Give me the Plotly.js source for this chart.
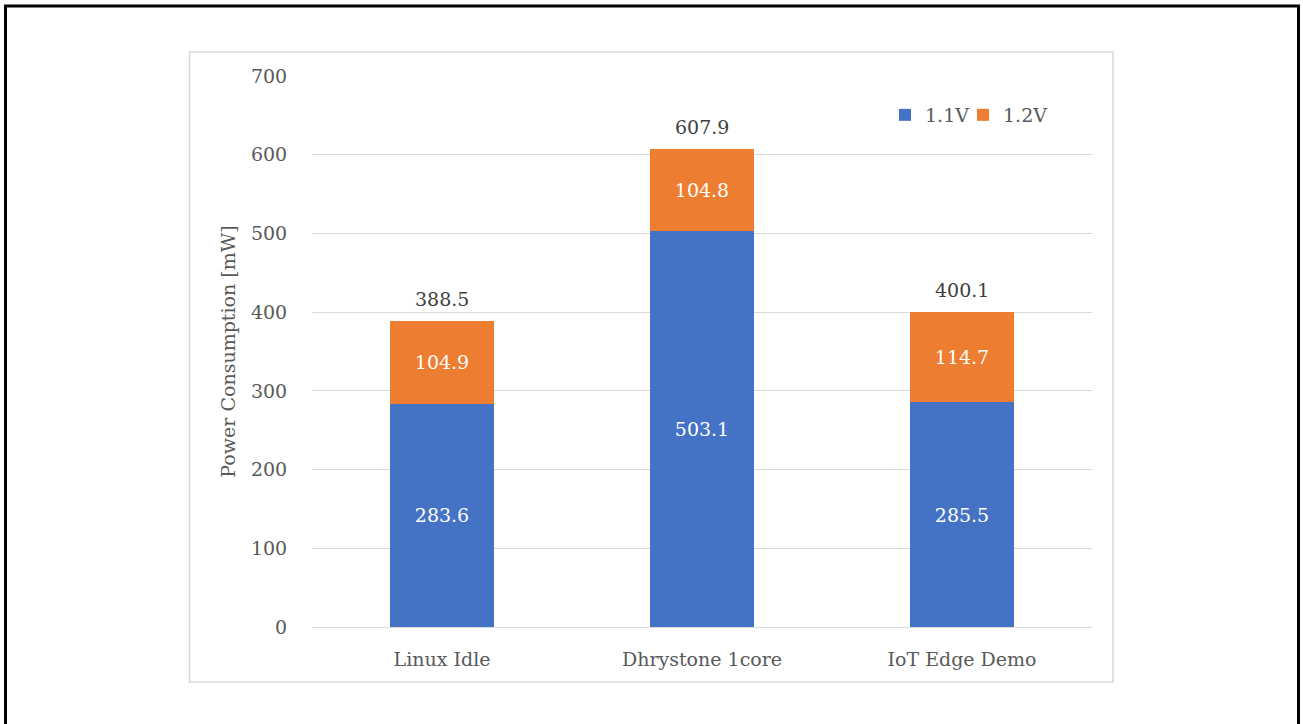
<!DOCTYPE html>
<html>
<head>
<meta charset="utf-8">
<script src="https://cdn.plot.ly/plotly-3.0.1.min.js"></script>
<style>html,body{margin:0;padding:0;background:#fff;}#chart{width:1303px;height:724px;}</style>
</head>
<body>
<div id="chart"></div>
<script>
const categories = ["Linux Idle", "Dhrystone 1core", "IoT Edge Demo"];
const v11 = [283.6, 503.1, 285.5];
const v12 = [104.9, 104.8, 114.7];
const totals = [388.5, 607.9, 400.1];
const seriesNames = ["1.1V", "1.2V"];

const FONT = "DejaVu Serif, Liberation Serif, serif";
const L = 312, R = 1092, T = 76, B = 627;
const px = x => (x - L) / (R - L);
const py = y => (B - y) / (B - T);

const traces = [
  {type: "bar", name: seriesNames[0], x: categories, y: v11, marker: {color: "#4472C4"},
   text: v11.map(v => v.toFixed(1)), textposition: "inside", insidetextanchor: "middle",
   textfont: {color: "#ffffff", size: 19, family: FONT}, hoverinfo: "y", legend: "legend"},
  {type: "bar", name: seriesNames[1], x: categories, y: v12, marker: {color: "#ED7D31"},
   text: v12.map(v => v.toFixed(1)), textposition: "inside", insidetextanchor: "middle",
   textfont: {color: "#ffffff", size: 19, family: FONT}, hoverinfo: "y", legend: "legend2"}
];

const annotations = categories.map((c, i) => ({
  x: c, y: totals[i], xref: "x", yref: "y", text: totals[i].toFixed(1),
  showarrow: false, yanchor: "middle", yshift: 22,
  font: {color: "#404040", size: 19, family: FONT}
}));

const legendBase = {orientation: "h", xanchor: "left", y: py(115), yanchor: "middle",
  font: {size: 19, color: "#595959", family: FONT}, itemwidth: 30, bgcolor: "rgba(0,0,0,0)"};

const layout = {
  width: 1303, height: 724,
  margin: {l: L, r: 1303 - R, t: T, b: 724 - B, pad: 0},
  barmode: "stack", bargap: 0.6,
  paper_bgcolor: "#ffffff", plot_bgcolor: "#ffffff",
  font: {family: FONT, size: 19, color: "#595959"},
  xaxis: {showgrid: false, zeroline: false, showline: false, ticks: "outside", ticklen: 15, tickcolor: "rgba(0,0,0,0)",
          tickfont: {size: 19, color: "#595959", family: FONT}},
  yaxis: {range: [0, 700], dtick: 100, showgrid: true, gridcolor: "#d9d9d9", gridwidth: 1,
          zeroline: true, zerolinecolor: "#d9d9d9", zerolinewidth: 1, showline: false,
          ticks: "outside", ticklen: 20, tickcolor: "rgba(0,0,0,0)",
          tickfont: {size: 19, color: "#595959", family: FONT},
          title: {text: "Power Consumption [mW]", font: {size: 19, color: "#595959", family: FONT}, standoff: 10}},
  legend: Object.assign({}, legendBase, {x: px(885)}),
  legend2: Object.assign({}, legendBase, {x: px(963)}),
  annotations: annotations,
  shapes: [
    {type: "rect", xref: "paper", yref: "paper", x0: px(189.5), x1: px(1113), y0: py(682), y1: py(52),
     line: {color: "#d9d9d9", width: 1.5}, layer: "below"},
    {type: "path", xref: "paper", yref: "paper",
     path: `M ${px(5.5)} ${py(740)} L ${px(5.5)} ${py(6)} L ${px(1298.5)} ${py(6)} L ${px(1298.5)} ${py(740)}`,
     line: {color: "#000000", width: 3}}
  ],
  showlegend: true
};

Plotly.newPlot("chart", traces, layout, {displayModeBar: false, staticPlot: true});
</script>
</body>
</html>
